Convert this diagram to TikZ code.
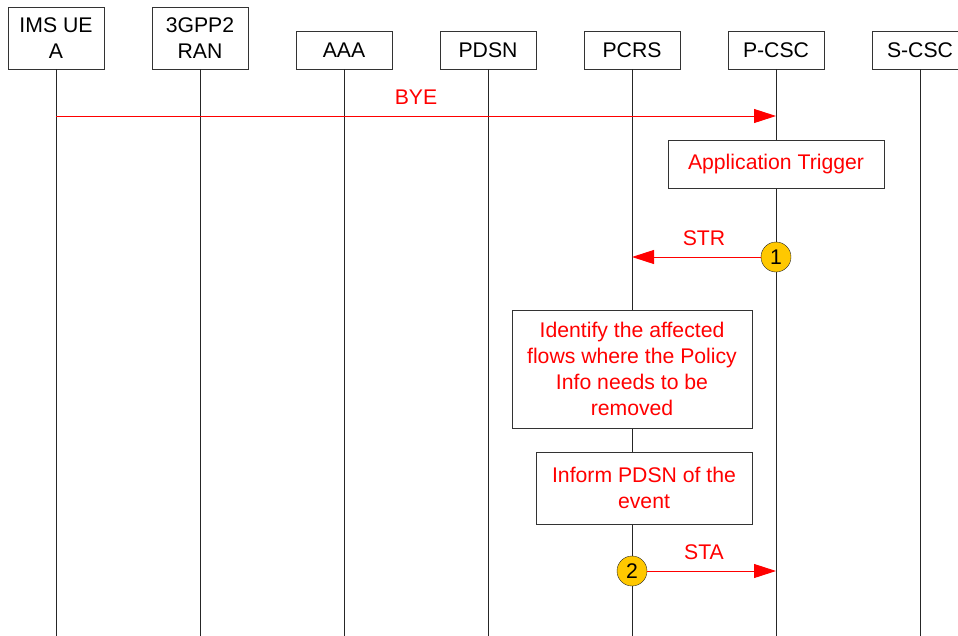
\documentclass[tikz,border=0pt]{standalone}
\usepackage{fontspec}
\setmainfont{Liberation Sans}
\usetikzlibrary{arrows.meta}
\definecolor{callout}{RGB}{255,200,0}
\tikzset{
	entity/.style={draw=black!80,fill=white,minimum width=96pt,inner sep=0pt,anchor=south,align=center,font=\fontsize{21.2}{26}\selectfont},
	action/.style={draw=black!80,fill=white,inner sep=0pt,align=center,text=red,font=\fontsize{21.2}{26}\selectfont},
	life/.style={black!85,line width=0.9pt},
	msg/.style={->,red,line width=0.9pt},
	lbl/.style={text=red,inner sep=0pt,above=11.5pt,font=\fontsize{21.2}{26}\selectfont},
	stepmark/.style={circle,draw=black!85,fill=callout,minimum size=30pt,inner sep=0pt,font=\fontsize{21.2}{26}\selectfont}
}
\begin{document}
\begin{tikzpicture}[>={Triangle[length=22pt,width=14pt]},x=1pt,y=-1pt]
		\useasboundingbox (0,0) rectangle (958,635);
		% entities
		\node[entity,minimum height=62pt] (ue) at (56,69) {IMS UE\\A};
		\node[entity,minimum height=62pt] (ran) at (200,69) {3GPP2\\RAN};
		\node[entity,minimum height=38pt] (aaa) at (344,69) {AAA};
		\node[entity,minimum height=38pt] (pdsn) at (488,69) {PDSN};
		\node[entity,minimum height=38pt] (pcrs) at (632,69) {PCRS};
		\node[entity,minimum height=38pt] (pcsc) at (776,69) {P-CSC};
		\node[entity,minimum height=38pt] (scsc) at (920,69) {S-CSC};
		% lifelines
		\coordinate (bottom) at (0,640);
		\foreach \n in {ue,ran,aaa,pdsn,pcrs,pcsc,scsc}{
			\coordinate (\n-end) at (\n.south |- bottom);
			\draw[life] (\n.south) -- (\n-end);
		}
		% BYE
		\coordinate (ue-bye) at (56,116);
		\coordinate (pcsc-bye) at (776,116);
		\draw[msg] (ue-bye) -- (pcsc-bye) node[midway,lbl] {BYE};
		\node[action,minimum width=216pt,minimum height=48pt] (trigger) at (776,164) {Application Trigger};
		% STR
		\node[stepmark] (c1) at (776,257) {1};
		\coordinate (pcrs-str) at (632,257);
		\draw[msg] (c1) -- (pcrs-str);
		\path (pcrs-str) -- (c1.center) node[midway,lbl] {STR};
		\node[action,minimum width=240pt,minimum height=118pt] (identify) at (632,369) {Identify the affected\\flows where the Policy\\Info needs to be\\removed};
		\node[action,minimum width=216pt,minimum height=72pt] (inform) at (644,488) {Inform PDSN of the\\event};
		% STA
		\node[stepmark] (c2) at (632,571) {2};
		\coordinate (pcsc-sta) at (776,571);
		\draw[msg] (c2) -- (pcsc-sta);
		\path (c2.center) -- (pcsc-sta) node[midway,lbl] {STA};
\end{tikzpicture}
\end{document}
